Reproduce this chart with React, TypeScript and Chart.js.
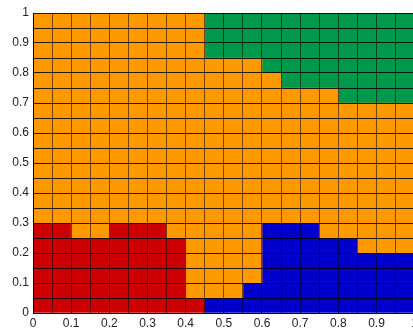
import React, { useEffect, useRef } from 'react';
import { Chart, registerables } from 'chart.js';

Chart.register(...registerables);

// Grid of classified cells, 20 x 20, cell size 0.05.
// Rows listed from top (y 0.95–1.00) to bottom (y 0.00–0.05).
// O = orange, R = red, G = green, B = blue
const cellSize = 0.05;
const gridRows: string[] = [
  'OOOOOOOOOGGGGGGGGGGG',
  'OOOOOOOOOGGGGGGGGGGG',
  'OOOOOOOOOGGGGGGGGGGG',
  'OOOOOOOOOOOOGGGGGGGG',
  'OOOOOOOOOOOOOGGGGGGG',
  'OOOOOOOOOOOOOOOOGGGG',
  'OOOOOOOOOOOOOOOOOOOO',
  'OOOOOOOOOOOOOOOOOOOO',
  'OOOOOOOOOOOOOOOOOOOO',
  'OOOOOOOOOOOOOOOOOOOO',
  'OOOOOOOOOOOOOOOOOOOO',
  'OOOOOOOOOOOOOOOOOOOO',
  'OOOOOOOOOOOOOOOOOOOO',
  'OOOOOOOOOOOOOOOOOOOO',
  'RROORRROOOOOBBBOOOOO',
  'RRRRRRRROOOOBBBBBOOO',
  'RRRRRRRROOOOBBBBBBBB',
  'RRRRRRRROOOOBBBBBBBB',
  'RRRRRRRROOOBBBBBBBBB',
  'RRRRRRRRRBBBBBBBBBBB',
];

const classKeys = ['O', 'R', 'G', 'B'];
const classNames = ['orange', 'red', 'green', 'blue'];
const classColors = ['#FF9900', '#CC0000', '#00994C', '#0000CC'];

const axisMin = 0;
const axisMax = 1;
const labelStep = 0.1;

function tickLabel(v: number): string {
  const tenths = Math.round(v * 100);
  if (tenths % Math.round(labelStep * 100) !== 0) return '';
  return String(Math.round(v * 10) / 10);
}

function buildDatasets() {
  const nRows = gridRows.length;
  return classKeys.map((key, k) => {
    const data: { x: number; y: [number, number] }[] = [];
    gridRows.forEach((row, r) => {
      for (let c = 0; c < row.length; c++) {
        if (row[c] === key) {
          const lo = (nRows - 1 - r) / nRows;
          const hi = (nRows - r) / nRows;
          data.push({ x: (2 * c + 1) / (2 * row.length), y: [lo, hi] });
        }
      }
    });
    return {
      label: classNames[k],
      data,
      backgroundColor: classColors[k],
      borderWidth: 0,
      grouped: false,
      barPercentage: 1,
      categoryPercentage: 1,
    };
  });
}

export default function App() {
  const ref = useRef<HTMLCanvasElement | null>(null);

  useEffect(() => {
    if (!ref.current) return;
    const font = { family: "'Liberation Sans', Arial, sans-serif", size: 12 };
    const chart = new Chart(ref.current, {
      type: 'bar',
      data: { datasets: buildDatasets() as any },
      options: {
        animation: false,
        responsive: false,
        devicePixelRatio: 1,
        layout: { padding: { top: 13, right: 4, left: 0, bottom: 0 } },
        plugins: { legend: { display: false }, tooltip: { enabled: false } },
        scales: {
          x: {
            type: 'linear',
            min: axisMin,
            max: axisMax,
            offset: false,
            grid: { offset: false, z: 1, color: 'rgba(0,0,0,0.55)', lineWidth: 1, drawTicks: false },
            border: { color: '#000', width: 1, z: 2 },
            ticks: {
              stepSize: cellSize,
              maxTicksLimit: 21,
              autoSkip: false,
              maxRotation: 0,
              minRotation: 0,
              padding: 3,
              color: '#222',
              font,
              callback: (v: any) => tickLabel(Number(v)),
            },
            afterFit: (s: any) => {
              s.height = 16;
            },
          },
          y: {
            type: 'linear',
            min: axisMin,
            max: axisMax,
            grid: { z: 1, color: 'rgba(0,0,0,0.85)', lineWidth: 1, drawTicks: false },
            border: { color: '#000', width: 1, z: 2 },
            ticks: {
              stepSize: cellSize,
              maxTicksLimit: 21,
              autoSkip: false,
              padding: 4,
              color: '#222',
              font,
              callback: (v: any) => tickLabel(Number(v)),
            },
            afterFit: (s: any) => {
              s.width = 33;
            },
          },
        },
      } as any,
    });
    return () => chart.destroy();
  }, []);

  return (
    <div
      style={{
        position: 'absolute',
        left: 0,
        top: 0,
        width: 413,
        height: 329,
        overflow: 'hidden',
        background: '#fff',
      }}
    >
      <canvas ref={ref} width={421} height={329} style={{ display: 'block', width: 421, height: 329 }} />
    </div>
  );
}
